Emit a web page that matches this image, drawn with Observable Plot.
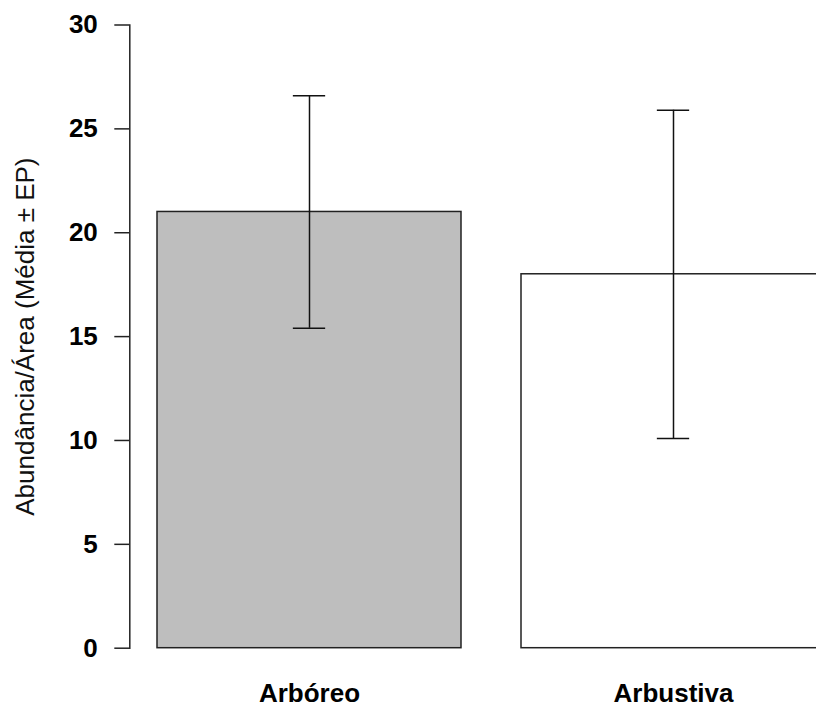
<!DOCTYPE html>
<html>
<head>
<meta charset="utf-8">
<script src="https://cdn.jsdelivr.net/npm/d3@7"></script>
<script src="https://cdn.jsdelivr.net/npm/@observablehq/plot@0.6"></script>
<style>
  html, body { margin: 0; padding: 0; background: #fff; overflow: hidden; }
</style>
</head>
<body>
<div id="chart"></div>
<script>
const categories = ["Arbóreo", "Arbustiva"];
const means = [21.0, 18.0];
const lows = [15.4, 10.1];
const highs = [26.6, 25.9];
const fills = ["#bebebe", "#ffffff"];
const yTicks = [0, 5, 10, 15, 20, 25, 30];
const yTitle = "Abundância/Área (Média ± EP)";

const data = categories.map((c, i) => ({cat: c, mean: means[i], low: lows[i], high: highs[i], fill: fills[i]}));

const chart = Plot.plot({
  width: 816,
  height: 709,
  marginLeft: 129.3,
  marginRight: 0,
  marginTop: 24.5,
  marginBottom: 61.3,
  style: {fontFamily: "'Liberation Sans', Arial, sans-serif", color: "#000", background: "#fff", overflow: "hidden"},
  x: {type: "band", domain: categories, range: [126, 855.4], paddingInner: 0.1645, paddingOuter: 0.08225, align: 0.5, axis: null},
  y: {domain: [0, 30], axis: null},
  color: {type: "identity"},
  marks: [
    Plot.barY(data, {x: "cat", y: "mean", fill: "fill", stroke: "#222", strokeWidth: 1.5}),
    Plot.ruleX(data, {x: "cat", y1: "low", y2: "high", stroke: "#111", strokeWidth: 1.5}),
    Plot.tickY(data, {x: "cat", y: "low", stroke: "#111", strokeWidth: 1.5, inset: 135.85}),
    Plot.tickY(data, {x: "cat", y: "high", stroke: "#111", strokeWidth: 1.5, inset: 135.85}),
    Plot.frame({anchor: "left", stroke: "#222", strokeWidth: 1.5}),
    Plot.axisY({ticks: yTicks, tickSize: 15, tickPadding: 17, fontSize: 26, fontWeight: "bold", stroke: "#222", strokeWidth: 1.5, label: null, tickFormat: d => String(d)}),
    Plot.axisX({tickSize: 0, tickPadding: 35, fontSize: 26, fontWeight: "bold", label: null}),
    Plot.text([yTitle], {frameAnchor: "left", rotate: -90, dx: -96.3, lineAnchor: "bottom", textAnchor: "middle", fontSize: 26, fill: "#111"})
  ]
});
document.getElementById("chart").appendChild(chart);
</script>
</body>
</html>
